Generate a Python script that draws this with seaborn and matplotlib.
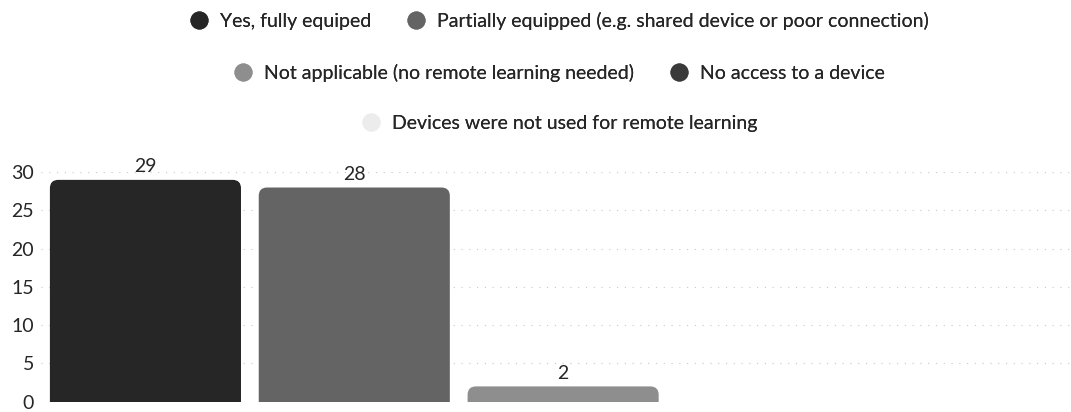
import numpy as np
import pandas as pd
import matplotlib
matplotlib.use("Agg")
import matplotlib.pyplot as plt
import seaborn as sns
from matplotlib.lines import Line2D
from matplotlib.patches import FancyBboxPatch

# data
categories = [
    "Yes, fully equiped",
    "Partially equipped (e.g. shared device or poor connection)",
    "Not applicable (no remote learning needed)",
    "No access to a device",
    "Devices were not used for remote learning",
]
counts = [29, 28, 2, 0, 0]
colors = ["#262626", "#646464", "#8e8e8e", "#3a3a3a", "#ececec"]
y_ticks = [0, 5, 10, 15, 20, 25, 30]

sns.set_style("white")
plt.rcParams["font.family"] = ["Lato", "DejaVu Sans"]

df = pd.DataFrame({"category": categories, "count": counts})

fig = plt.figure(figsize=(10.71, 4.12), dpi=100)
ax = fig.add_axes([0.0383, 0.025, 0.975, 0.557])

sns.barplot(data=df, x="category", y="count", hue="category",
            palette=colors, order=categories, hue_order=categories,
            width=0.915, legend=False, ax=ax)

ax.set_ylim(0, 30)
ax.set_xlim(-0.5, len(categories) - 0.5)
ax.set_yticks(y_ticks)
ax.tick_params(axis="y", length=0, labelsize=14, pad=5)
ax.set_xticks([])
ax.set_xlabel("")
ax.set_ylabel("")
ax.yaxis.grid(True, color="#c8c8c8", linestyle=(0, (1, 6)), linewidth=0.8)
ax.set_axisbelow(True)
for s in ax.spines.values():
    s.set_visible(False)

# rounded top corners: swap each seaborn bar for a rounded box of same size
rx = 0.04           # corner radius in x data units (~8 px)
ry = 1.1            # corner radius in y data units (~8 px)
for cont in ax.containers:
    for bar in list(cont):
        h = bar.get_height()
        if h <= 0:
            continue
        fb = FancyBboxPatch((bar.get_x(), -ry), bar.get_width(), h + ry,
                            boxstyle=f"round,pad=0,rounding_size={rx}",
                            mutation_aspect=ry / rx,
                            facecolor=bar.get_facecolor(), edgecolor="none",
                            clip_on=True, zorder=2)
        ax.add_patch(fb)
        bar.set_visible(False)
        ax.text(bar.get_x() + bar.get_width() / 2, h + 0.6, f"{int(h)}",
                ha="center", va="bottom", fontsize=14, clip_on=False)

# legend in three centered rows
def handle(c):
    return Line2D([], [], marker="o", linestyle="", markersize=12,
                  markerfacecolor=c, markeredgecolor=c)

cx = 0.522
rows = [([0, 1], 0.949), ([2, 3], 0.823), ([4], 0.701)]
for idx, cy in rows:
    leg = fig.legend([handle(colors[i]) for i in idx], [categories[i] for i in idx],
                     loc="center", bbox_to_anchor=(cx, cy), ncol=len(idx),
                     frameon=False, fontsize=14, handletextpad=0.6,
                     columnspacing=1.8, handlelength=1.0, borderpad=0,
                     borderaxespad=0)
    fig.add_artist(leg)

fig.savefig("out.png", dpi=100)
